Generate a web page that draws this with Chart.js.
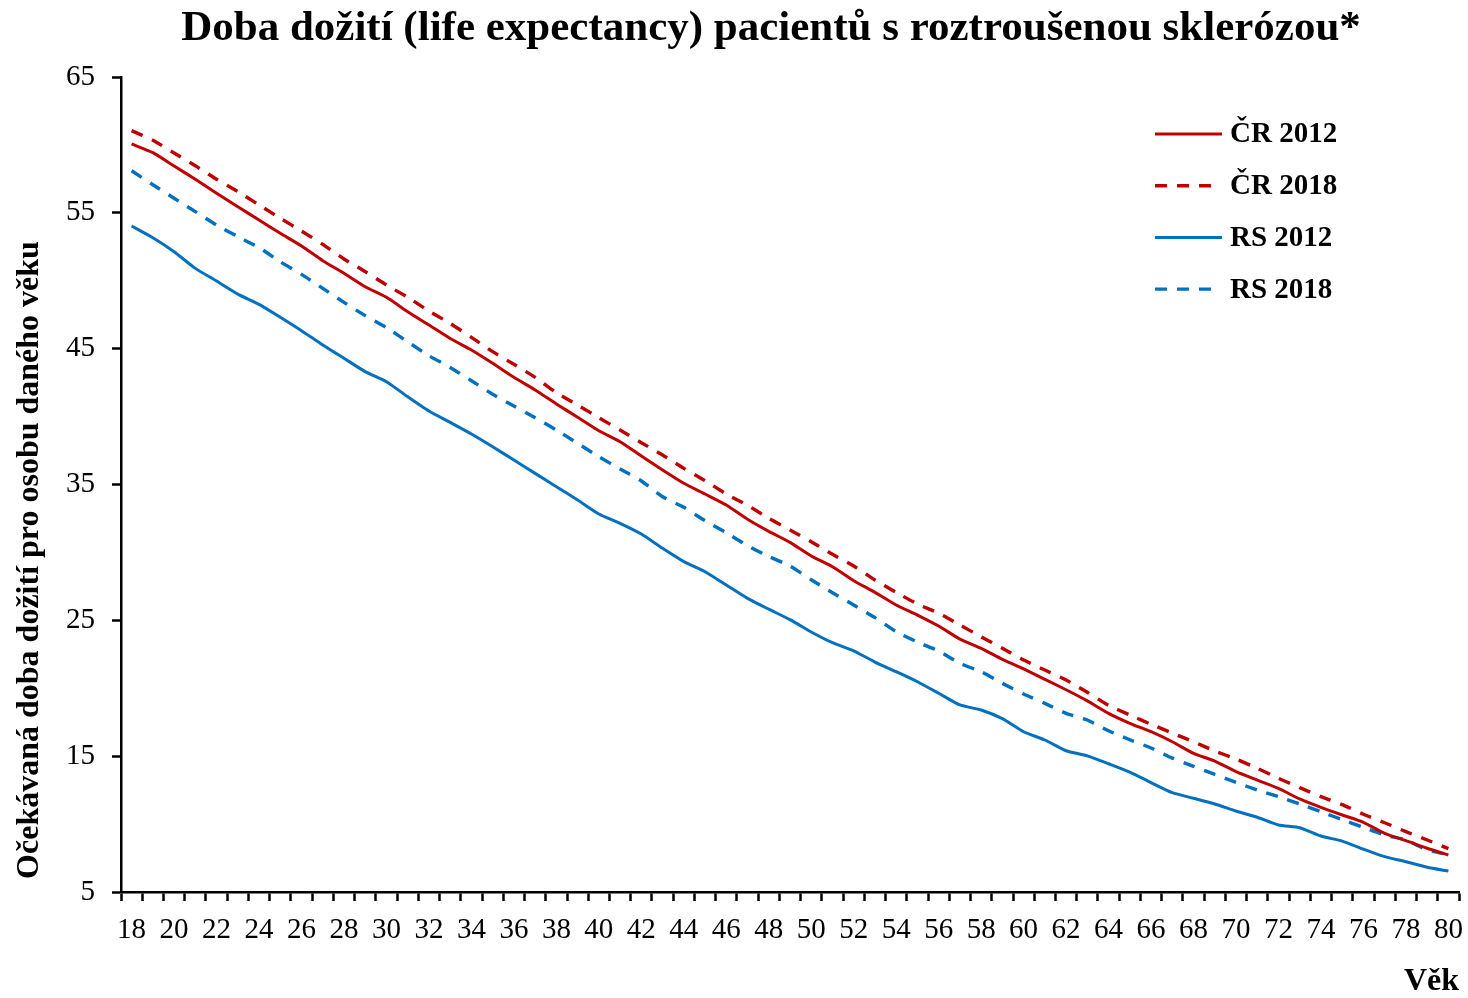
<!DOCTYPE html>
<html lang="cs">
<head>
<meta charset="utf-8">
<title>Doba dožití pacientů s RS</title>
<script src="https://cdn.jsdelivr.net/npm/chart.js@4.4.1/dist/chart.umd.min.js"></script>
<style>
  html, body { margin:0; padding:0; background:#fff; }
  #c { display:block; }
</style>
</head>
<body>
<canvas id="c" width="1468" height="998"></canvas>
<script>
// --- Data ---
const vek = [];
for (let a = 18; a <= 80; a++) vek.push(String(a));

const cr2012 = [60.07,59.43,58.45,57.47,56.44,55.45,54.47,53.49,52.56,51.48,50.55,49.56,48.78,47.72,46.74,45.75,
  44.9,43.92,42.89,41.96,40.93,39.95,38.96,38.15,37.1,36.07,35.09,34.3,33.49,32.44,31.55,30.74,29.74,28.95,
  27.92,27.06,26.13,25.39,24.58,23.62,22.94,22.13,21.42,20.66,19.89,19.07,18.15,17.42,16.8,16.06,15.21,14.64,
  13.86,13.24,12.63,11.85,11.23,10.67,10.13,9.32,8.78,8.22,7.72];

const cr2018 = [61.05,60.34,59.4,58.47,57.47,56.56,55.58,54.6,53.66,52.68,51.6,50.67,49.69,48.78,47.77,46.86,
  45.83,44.78,43.85,42.89,41.76,40.85,39.92,39.01,38.08,37.17,36.19,35.28,34.3,33.47,32.51,31.65,30.79,29.86,
  29.0,27.97,27.06,26.2,25.52,24.66,23.79,22.94,22.08,21.34,20.61,19.7,18.74,18.03,17.35,16.7,16.06,15.38,
  14.79,14.11,13.37,12.68,12.02,11.43,10.72,10.1,9.44,8.83,8.19];

const rs2012 = [54.03,53.17,52.14,50.91,49.98,49.02,48.26,47.31,46.32,45.27,44.29,43.31,42.57,41.46,40.41,39.57,
  38.72,37.78,36.8,35.82,34.84,33.86,32.83,32.14,31.35,30.3,29.32,28.58,27.6,26.62,25.82,25.05,24.14,23.35,
  22.76,21.93,21.22,20.48,19.63,18.77,18.4,17.76,16.8,16.19,15.4,15.02,14.44,13.83,13.05,12.31,11.9,11.48,
  10.96,10.5,9.93,9.73,9.12,8.75,8.16,7.6,7.23,6.82,6.54];

const rs2018 = [58.1,57.07,56.07,55.09,54.1,53.25,52.44,51.4,50.47,49.44,48.41,47.43,46.54,45.51,44.48,43.62,
  42.64,41.64,40.78,39.92,39.01,38.03,37.05,36.14,35.26,34.1,33.32,32.34,31.45,30.5,29.7,29.0,27.99,27.03,
  26.13,25.2,24.16,23.4,22.74,21.83,21.22,20.36,19.58,18.89,18.15,17.66,16.87,16.21,15.6,14.86,14.25,13.66,
  13.07,12.51,12.02,11.48,10.91,10.32,9.76,9.19,8.83,8.1,7.75];

const yTicks = [5, 15, 25, 35, 45, 55, 65];

const nadpis = 'Doba dožití (life expectancy) pacientů s roztroušenou sklerózou*';
const osaY = 'Očekávaná doba dožití pro osobu daného věku';
const osaX = 'Věk';

// --- Styl ---
const SERIF = "'Liberation Serif', 'Times New Roman', serif";
const RED = '#C00000', BLUE = '#0070C0';
const DASH = [12, 10];

// nadpis, popis osy Y a legenda se kreslí ručně (Excel je má jinde než Chart.js)
const textPlugin = {
  id: 'texty',
  afterDraw(chart) {
    const ctx = chart.ctx, ca = chart.chartArea;
    ctx.save();
    ctx.fillStyle = '#000';
    // nadpis
    ctx.font = `bold 43px ${SERIF}`;
    ctx.textAlign = 'center';
    ctx.textBaseline = 'middle';
    ctx.fillText(nadpis, 771, 29);
    // osa Y
    ctx.save();
    ctx.translate(30, 560);
    ctx.rotate(-Math.PI / 2);
    ctx.font = `bold 32px ${SERIF}`;
    ctx.fillText(osaY, 0, 0);
    ctx.restore();
    // legenda
    const x0 = ca.right - 304, x1 = ca.right - 237;
    chart.data.datasets.forEach((ds, i) => {
      const y = ca.top + 57 + i * 51.7;
      ctx.beginPath();
      ctx.strokeStyle = ds.borderColor;
      ctx.lineWidth = ds.borderWidth;
      ctx.setLineDash(ds.borderDash || []);
      ctx.moveTo(x0, y);
      ctx.lineTo(ds.borderDash.length ? x1 - 9 : x1, y);
      ctx.stroke();
      ctx.setLineDash([]);
      ctx.font = `bold 29px ${SERIF}`;
      ctx.textAlign = 'left';
      ctx.fillText(ds.label, x1 + 8, y + 1);
    });
    ctx.restore();
  }
};

const serie = (label, data, color, dashed) => ({
  label, data,
  borderColor: color,
  backgroundColor: color,
  borderWidth: dashed ? 3.4 : 3,
  borderDash: dashed ? DASH : [],
  pointRadius: 0,
  tension: 0.2,
  fill: false
});

new Chart(document.getElementById('c'), {
  type: 'line',
  data: {
    labels: vek,
    datasets: [
      serie('ČR 2012', cr2012, RED, false),
      serie('ČR 2018', cr2018, RED, true),
      serie('RS 2012', rs2012, BLUE, false),
      serie('RS 2018', rs2018, BLUE, true)
    ]
  },
  options: {
    responsive: false,
    animation: false,
    devicePixelRatio: 1,
    layout: { padding: { top: 77, right: 9, bottom: 0, left: 0 } },
    plugins: {
      legend: { display: false },
      title: { display: false },
      tooltip: { enabled: false }
    },
    scales: {
      x: {
        offset: true,
        grid: { offset: true, drawOnChartArea: false, drawTicks: true, tickLength: 9, tickColor: '#000', tickWidth: 2.5 },
        border: { color: '#000', width: 2.5 },
        ticks: {
          autoSkip: false, maxRotation: 0, color: '#000', padding: 12,
          font: { family: SERIF, size: 29 },
          callback: (v, i) => (i % 2 === 0 ? vek[i] : '')
        },
        title: {
          display: true, text: osaX, align: 'end', color: '#000',
          font: { family: SERIF, size: 32, weight: 'bold', lineHeight: 1 },
          padding: { top: 0, bottom: 0 }
        },
        afterFit: s => { s.height = 106; s.paddingLeft = 0; s.paddingRight = 0; }
      },
      y: {
        min: 5, max: 65,
        grid: { drawOnChartArea: false, drawTicks: true, tickLength: 9, tickColor: '#000', tickWidth: 2.5 },
        border: { color: '#000', width: 2.5 },
        afterBuildTicks: s => { s.ticks = yTicks.map(v => ({ value: v })); },
        ticks: { color: '#000', padding: 17, font: { family: SERIF, size: 29 } },
        afterFit: s => { s.width = 121; }
      }
    }
  },
  plugins: [textPlugin]
});
</script>
</body>
</html>
